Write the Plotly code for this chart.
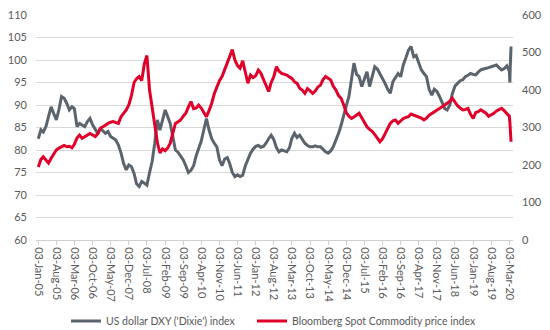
import datetime as dt
import plotly.graph_objects as go

# Monthly readings (3rd of each month, Jan 2005 - Feb 2020)
dxy_monthly = [
    82.5, 84.5, 84.0, 85.2, 87.4, 89.6, 88.1, 86.7, 89.0, 91.9, 91.5, 90.4,   # 2005
    88.9, 89.6, 89.2, 85.2, 85.9, 85.5, 85.2, 86.3, 87.0, 85.6, 84.5, 83.7,   # 2006
    84.8, 84.2, 83.7, 84.1, 83.0, 82.6, 82.2, 81.1, 79.3, 77.0, 75.6, 76.7,   # 2007
    76.3, 74.8, 72.5, 71.9, 73.0, 72.6, 72.2, 75.0, 77.5, 81.5, 86.7, 84.4,   # 2008
    86.7, 88.9, 87.5, 85.9, 83.0, 80.0, 79.5, 78.5, 77.8, 76.5, 75.0, 75.5,   # 2009
    76.5, 78.8, 80.5, 82.0, 84.5, 87.0, 84.5, 82.5, 81.5, 80.7, 77.8, 76.5,   # 2010
    78.0, 78.3, 77.0, 75.0, 74.1, 74.5, 74.1, 74.4, 76.5, 78.0, 79.3, 80.2,   # 2011
    80.8, 81.0, 80.6, 80.8, 81.5, 82.5, 83.3, 82.3, 80.5, 79.6, 80.0, 79.8,   # 2012
    79.6, 80.5, 82.6, 83.7, 82.8, 83.3, 82.5, 81.5, 81.0, 80.7, 80.7, 80.9,   # 2013
    80.7, 80.7, 80.2, 79.6, 79.3, 79.8, 80.7, 82.0, 83.7, 85.5, 87.4, 89.8,   # 2014
    91.9, 96.0, 99.3, 96.8, 96.3, 94.1, 96.0, 97.4, 94.1, 96.0, 98.5, 98.0,   # 2015
    97.0, 96.0, 94.8, 93.5, 92.6, 95.2, 96.0, 97.0, 96.3, 98.9, 100.5, 102.2, # 2016
    103.0, 100.7, 101.0, 99.5, 97.8, 97.0, 96.3, 93.5, 92.2, 93.5, 93.0, 91.9,  # 2017
    90.5, 89.2, 88.9, 90.0, 92.5, 94.2, 94.8, 95.4, 95.6, 96.3, 96.6, 97.0,   # 2018
    96.8, 96.7, 97.3, 97.8, 98.0, 98.1, 98.3, 98.5, 98.7, 98.9, 98.3, 97.8,   # 2019
    98.1, 98.7,                                                               # 2020
]
bcom_monthly = [
    195, 215, 222, 212, 205, 218, 230, 240, 245, 249, 252, 249,   # 2005
    250, 246, 255, 272, 280, 271, 276, 280, 284, 280, 276, 283,   # 2006
    298, 302, 307, 311, 314, 316, 313, 311, 329, 338, 347, 360,   # 2007
    385, 420, 430, 436, 425, 470, 492, 400, 352, 300, 260, 232,   # 2008
    243, 238, 245, 258, 284, 311, 315, 320, 330, 338, 355, 369,   # 2009
    350, 352, 360, 352, 340, 329, 345, 364, 390, 409, 425, 436,   # 2010
    453, 470, 489, 508, 480, 465, 458, 478, 445, 418, 440, 433,   # 2011
    438, 453, 445, 427, 412, 396, 420, 436, 462, 450, 444, 442,   # 2012
    440, 435, 431, 422, 418, 405, 400, 391, 404, 398, 391, 397,   # 2013
    408, 413, 427, 436, 432, 427, 410, 400, 385, 378, 360, 340,   # 2014
    330, 324, 328, 333, 338, 326, 315, 302, 295, 290, 281, 272,   # 2015
    262, 270, 284, 300, 311, 318, 320, 311, 318, 324, 327, 329,   # 2016
    336, 333, 331, 329, 325, 320, 325, 333, 337, 342, 346, 351,   # 2017
    355, 360, 364, 370, 378, 366, 358, 352, 347, 348, 351, 335,   # 2018
    324, 340, 342, 347, 342, 338, 330, 333, 338, 344, 347, 351,   # 2019
    345, 338,                                                     # 2020
]

# March 2020 sell-off, read at finer spacing
march_dates = ["2020-03-03", "2020-03-09", "2020-03-13", "2020-03-18", "2020-03-23"]
dxy_march = [97.5, 95.0, 98.0, 100.5, 103.0]
bcom_march = [330, 315, 298, 278, 262]

monthly_dates = [
    dt.date(2005 + i // 12, i % 12 + 1, 3).isoformat() for i in range(len(dxy_monthly))
]
dates = monthly_dates + march_dates
dxy = dxy_monthly + dxy_march
bcom = bcom_monthly + bcom_march

# Category labels every seven months, 03-Jan-05 ... 03-Mar-20
tick_dates = [dt.date(2005 + (7 * k) // 12, (7 * k) % 12 + 1, 3) for k in range(27)]
tick_vals = [d.isoformat() for d in tick_dates]
tick_text = [d.strftime("%d-%b-%y") for d in tick_dates]

names = ["US dollar DXY ('Dixie') index", "Bloomberg Spot Commodity price index"]
GREY = "#5b636c"
RED = "#e0002a"
TEXT = "#595959"
FONT = "Lato, 'Open Sans', sans-serif"

PLOT_L, PLOT_R = 36, 513          # plot area edges in px
PLOT_W = PLOT_R - PLOT_L


def px_to_paper(px):
    return (px - PLOT_L) / PLOT_W


fig = go.Figure()
fig.add_trace(go.Scatter(
    x=dates, y=dxy, name=names[0], mode="lines",
    line=dict(color=GREY, width=3), yaxis="y", legend="legend",
))
fig.add_trace(go.Scatter(
    x=dates, y=bcom, name=names[1], mode="lines",
    line=dict(color=RED, width=3), yaxis="y2", legend="legend2",
))

legend_style = dict(
    orientation="h", y=-0.36, yanchor="middle", xanchor="left",
    font=dict(size=10.5, color=TEXT), bgcolor="rgba(0,0,0,0)",
    itemwidth=30, borderwidth=0,
)

fig.update_layout(
    width=550, height=330,
    margin=dict(l=PLOT_L, r=550 - PLOT_R, t=15, b=90, autoexpand=False),
    paper_bgcolor="white", plot_bgcolor="white",
    font=dict(family=FONT, size=11, color=TEXT),
    showlegend=True,
    legend=dict(x=px_to_paper(66), **legend_style),
    legend2=dict(x=px_to_paper(252), **legend_style),
    xaxis=dict(
        type="date", range=["2004-12-07", "2020-04-15"],
        tickmode="array", tickvals=tick_vals, ticktext=tick_text,
        tickangle=90, tickfont=dict(size=11, color=TEXT),
        showgrid=False, showline=True, linecolor="#d0d0d0", linewidth=1,
        ticks="outside", ticklen=4, tickcolor="#d0d0d0", zeroline=False,
    ),
    yaxis=dict(
        range=[60, 110], dtick=5, tick0=60,
        showgrid=True, gridcolor="#d9d9d9", gridwidth=1,
        zeroline=False, showline=False, ticks="",
        tickfont=dict(size=11, color=TEXT), ticklabelstandoff=8,
    ),
    yaxis2=dict(
        range=[0, 600], dtick=100, tick0=0, overlaying="y", side="right",
        showgrid=False, zeroline=False, showline=False, ticks="",
        tickfont=dict(size=11, color=TEXT), ticklabelstandoff=8,
    ),
)

fig.write_html("out.html")
